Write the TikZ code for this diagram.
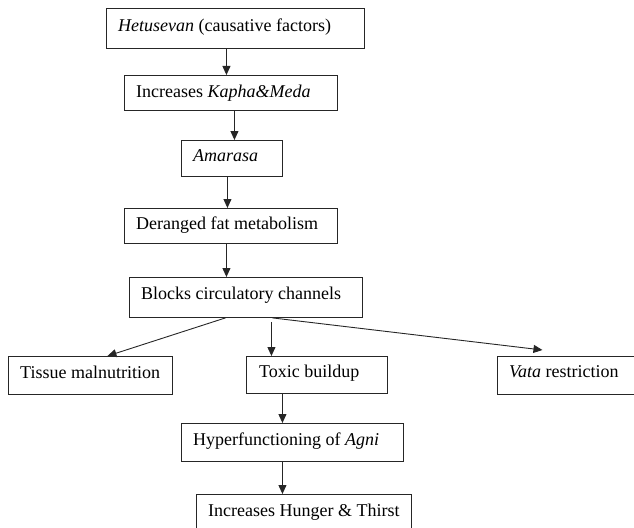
\documentclass[tikz,border=0pt]{standalone}
\usepackage{fontspec}
\setmainfont{Liberation Serif}
\usetikzlibrary{arrows.meta}
\begin{document}
\begin{tikzpicture}[x=1pt,y=-1pt,
  box/.style={draw=black!85, line width=0.9pt, inner sep=0pt, anchor=north west},
  txt/.style={inner sep=0pt, anchor=base west, font=\fontsize{18}{21}\selectfont},
  arr/.style={draw=black!85, line width=0.9pt, -{Triangle[length=9pt,width=8pt]}}]
\useasboundingbox (0,0) rectangle (634,527);
% boxes
\node[box, minimum width=258pt, minimum height=40pt] (n1) at (106,8) {};
\node[box, minimum width=213pt, minimum height=35pt] (n2) at (124,75) {};
\node[box, minimum width=101pt, minimum height=36pt] (n3) at (181,140) {};
\node[box, minimum width=213pt, minimum height=35pt] (n4) at (124,208) {};
\node[box, minimum width=233pt, minimum height=40pt] (n5) at (129,277) {};
\node[box, minimum width=164pt, minimum height=38pt] (n6) at (8,356) {};
\node[box, minimum width=141pt, minimum height=37pt] (n7) at (246,356) {};
\node[box, minimum width=150pt, minimum height=38pt] (n8) at (497,356) {};
\node[box, minimum width=222pt, minimum height=38pt] (n9) at (181,423) {};
\node[box, minimum width=215pt, minimum height=40pt] (n10) at (196,494) {};
% texts
\node[txt] (t1) at (118,32) {\textit{Hetusevan} (causative factors)};
\node[txt] (t2) at (136,97) {Increases \textit{Kapha\&Meda}};
\node[txt] (t3) at (193,161) {\textit{Amarasa}};
\node[txt] (t4) at (136,229) {Deranged fat metabolism};
\node[txt] (t5) at (141,299) {Blocks circulatory channels};
\node[txt] (t6) at (20,378) {Tissue malnutrition};
\node[txt] (t7) at (259,377) {Toxic buildup};
\node[txt] (t8) at (509,377) {\textit{Vata} restriction};
\node[txt] (t9) at (193,445) {Hyperfunctioning of \textit{Agni}};
\node[txt] (t10) at (208,516) {Increases Hunger \& Thirst};
% connectors
\draw[arr] ([xshift=-9pt]n1.south) -- ([xshift=-9pt]n1.south |- n2.north);
\draw[arr] ([xshift=3.5pt]n2.south) -- ([xshift=3.5pt]n2.south |- n3.north);
\draw[arr] ([xshift=-4.5pt]n3.south) -- ([xshift=-4.5pt]n3.south |- n4.north);
\draw[arr] ([xshift=-4.5pt]n4.south) -- ([xshift=-4.5pt]n4.south |- n5.north);
\draw[arr] ([xshift=-20.5pt]n5.south) -- ([xshift=17pt]n6.north);
\draw[arr] ([xshift=25.5pt,yshift=-4pt]n5.south) -- ([xshift=-45.5pt]n7.north);
\draw[arr] ([xshift=26.5pt]n5.south) -- ([xshift=-30pt,yshift=6pt]n8.north);
\draw[arr] ([xshift=-34.5pt]n7.south) -- ([xshift=-34.5pt]n7.south |- n9.north);
\draw[arr] ([xshift=-10pt]n9.south) -- ([xshift=-10pt]n9.south |- n10.north);
\end{tikzpicture}
\end{document}
